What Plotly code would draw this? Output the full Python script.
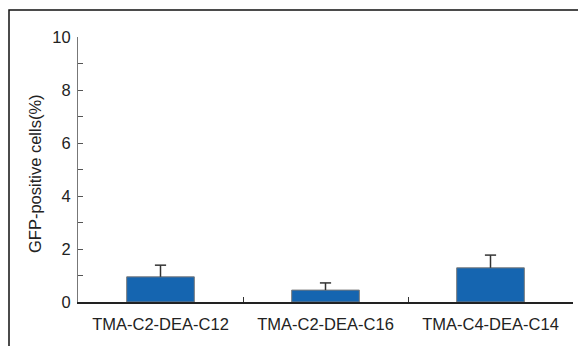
import plotly.graph_objects as go

categories = ["TMA-C2-DEA-C12", "TMA-C2-DEA-C16", "TMA-C4-DEA-C14"]
values = [0.95, 0.45, 1.29]
errors = [0.44, 0.27, 0.48]
y_ticks = [0, 2, 4, 6, 8, 10]

W, H = 578, 346
L, R, T, B = 78, 5, 37, 44
pw, ph = W - L - R, H - T - B

def px_x(x):
    return (x - L) / pw

def px_y(y):
    return (H - B - y) / ph

font = "Liberation Sans, Arial, sans-serif"
fs = 16.5

tops = [v + e for v, e in zip(values, errors)]

fig = go.Figure()
fig.add_trace(go.Bar(
    x=categories, y=values, width=0.41,
    marker=dict(color="#1565b0", line=dict(color="#7a7a7a", width=1)),
))
fig.add_trace(go.Scatter(
    x=categories, y=tops, mode="markers",
    marker=dict(symbol="line-ew", size=8, color="#333333",
                line=dict(color="#333333", width=1.5)),
    error_y=dict(type="data", array=[0, 0, 0], arrayminus=errors, symmetric=False,
                 color="#333333", thickness=1.5, width=0),
))

fig.update_layout(
    width=W, height=H,
    margin=dict(l=L, r=R, t=T, b=B),
    paper_bgcolor="white", plot_bgcolor="white",
    showlegend=False,
    font=dict(family=font, size=fs, color="#222222"),
    xaxis=dict(
        type="category", range=[-0.5, 2.5], tickson="boundaries",
        ticks="inside", ticklen=5, tickcolor="#333333", tickwidth=1,
        showline=True, linecolor="#222222", linewidth=1.5,
        showgrid=False, zeroline=False, ticklabelstandoff=6,
        tickfont=dict(size=fs, color="#222222"),
    ),
    yaxis=dict(
        range=[0, 10], tickvals=y_ticks, ticktext=[str(v) for v in y_ticks],
        ticks="inside", ticklen=5, tickcolor="#555555", tickwidth=1,
        minor=dict(dtick=1, ticks="inside", ticklen=5, tickcolor="#555555", showgrid=False),
        showline=True, linecolor="#777777", linewidth=1,
        showgrid=False, zeroline=False, ticklabelstandoff=3,
        tickfont=dict(size=fs, color="#222222"),
    ),
    shapes=[dict(
        type="rect", xref="paper", yref="paper",
        x0=px_x(9), x1=px_x(640), y0=px_y(420), y1=px_y(10),
        line=dict(color="#111111", width=1.5),
    )],
    annotations=[dict(
        text="GFP-positive cells(%)", xref="paper", yref="paper",
        x=px_x(35), y=px_y(174), xanchor="center", yanchor="middle",
        textangle=-90, showarrow=False,
        font=dict(family=font, size=fs, color="#222222"),
    )],
)

fig.write_html(
    "out.html",
    config={"displayModeBar": False},
    post_script="document.body.style.margin='0';document.body.style.overflow='hidden';",
)
